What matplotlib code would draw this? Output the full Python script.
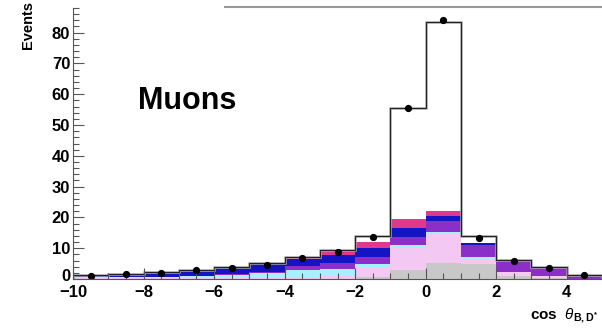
import matplotlib
matplotlib.use("Agg")
import matplotlib.pyplot as plt
import matplotlib.transforms as mtransforms
import numpy as np

plt.rcParams['font.family'] = ['Liberation Sans', 'DejaVu Sans']
plt.rcParams['mathtext.fontset'] = 'custom'
plt.rcParams['mathtext.rm'] = 'Liberation Sans'
plt.rcParams['mathtext.bf'] = 'Liberation Sans:bold'
plt.rcParams['mathtext.it'] = 'Liberation Sans:italic'

# bin edges of cos theta_{B,D*}
bin_edges = list(range(-10, 6))
bin_centers = [-9.5, -8.5, -7.5, -6.5, -5.5, -4.5, -3.5, -2.5, -1.5, -0.5, 0.5, 1.5, 2.5, 3.5, 4.5]

# stacked components (bottom to top)
gray_comp    = [0.0, 0.0, 0.0, 0.0, 0.0, 0.0, 0.1, 0.1, 0.8, 2.9, 5.1, 5.0, 1.0, 0.3, 0.0]
pink_comp    = [0.2, 0.2, 0.2, 0.3, 0.3, 0.4, 0.5, 0.9, 3.1, 7.4, 9.7, 1.6, 1.2, 0.6, 0.1]
cyan_comp    = [0.3, 0.4, 0.4, 0.6, 1.1, 1.5, 2.3, 2.1, 1.0, 0.7, 0.5, 0.4, 0.2, 0.1, 0.0]
purple_comp  = [0.1, 0.1, 0.1, 0.2, 0.2, 0.4, 1.3, 2.0, 2.3, 2.7, 3.6, 4.2, 3.7, 3.0, 1.2]
blue_comp    = [0.6, 1.0, 1.5, 1.9, 2.2, 2.7, 2.2, 2.7, 2.8, 2.7, 1.6, 0.4, 0.1, 0.0, 0.0]
magenta_comp = [0.0, 0.0, 0.0, 0.0, 0.0, 0.1, 0.5, 1.6, 2.1, 3.0, 1.7, 0.1, 0.0, 0.0, 0.0]
signal_comp  = [0.0, 0.0, 0.0, 0.0, 0.0, 0.0, 0.1, 0.1, 1.9, 36.1, 61.3, 2.3, 0.0, 0.0, 0.0]

# data points
data_y = [1.1, 1.5, 2.0, 3.0, 3.6, 4.7, 6.8, 8.9, 13.5, 55.5, 84.0, 13.3, 5.8, 3.6, 1.3]

y_ticks = [0, 10, 20, 30, 40, 50, 60, 70, 80]
x_ticks = [-10, -8, -6, -4, -2, 0, 2, 4]

fig = plt.figure(figsize=(6.02, 3.30), dpi=100)
ax = fig.add_axes([73/602, 51/330, 1 - 73/602, (279 - 8)/330])

layers = [gray_comp, pink_comp, cyan_comp, purple_comp, blue_comp, magenta_comp, signal_comp]
colors = ['#c8c8c8', '#f3c8f3', '#a8f0ff', '#8c2ec8', '#1414c4', '#e0388c', '#ffffff']
bottom = np.zeros(len(bin_centers))
for vals, col in zip(layers, colors):
    v = np.array(vals)
    ax.bar(bin_edges[:-1], v, width=1.0, bottom=bottom, align='edge',
           color=col, edgecolor='none', linewidth=0)
    bottom = bottom + v

total = bottom
ax.stairs(total, bin_edges, color='#aaaaaa', linewidth=1.8)
ax.stairs(total, bin_edges, color='#222222', linewidth=0.8)

ax.plot(bin_centers, data_y, 'o', color='black', markersize=4.2)

ax.set_xlim(-10, 5)
ax.set_ylim(0, 88)
ax.set_xticks(x_ticks)
ax.set_xticks(np.arange(-10, 5.01, 0.5), minor=True)
ax.set_yticks(y_ticks)
ax.set_yticks(np.arange(0, 88.1, 2), minor=True)
ax.set_xticklabels([f"\u2212{abs(t)}" if t < 0 else str(t) for t in x_ticks],
                   fontsize=12, fontweight='bold')
ax.set_yticklabels([str(t) for t in y_ticks], fontsize=12, fontweight='bold')
ax.tick_params(axis='both', which='major', direction='in', length=8, width=0.8, color='#555555')
ax.tick_params(axis='both', which='minor', direction='in', length=4, width=0.8, color='#555555')
ax.tick_params(axis='x', which='both', top=False, pad=4)
ax.tick_params(axis='y', which='both', right=False, pad=2)

# nudge the y "0" label up so it does not collide with the x "-10" label
ylab0 = ax.get_yticklabels()[0]
ylab0.set_transform(ylab0.get_transform() +
                    mtransforms.ScaledTranslation(0, 4/100, fig.dpi_scale_trans))

for s in ['top', 'right']:
    ax.spines[s].set_visible(False)
ax.spines['left'].set_color('#555555')
ax.spines['bottom'].set_color('#555555')

# partial top frame line
fig.add_artist(plt.Line2D([225/602, 1.0], [1 - 7/330, 1 - 7/330], color='#999999', linewidth=1.5))

fig.text(28/602, 1 - 25/330, 'Events', rotation=90, fontsize=10.5, fontweight='bold',
         ha='center', va='center')
fig.text(598/602, 1 - 316/330, r'$\mathbf{cos}\ \ \theta_{\mathbf{B,D^{*}}}$', fontsize=11,
         ha='right', va='center')
fig.text(138/602, 1 - 101/330, 'Muons', fontsize=22, fontweight='bold', ha='left', va='center')

fig.savefig('out.png', dpi=100)
